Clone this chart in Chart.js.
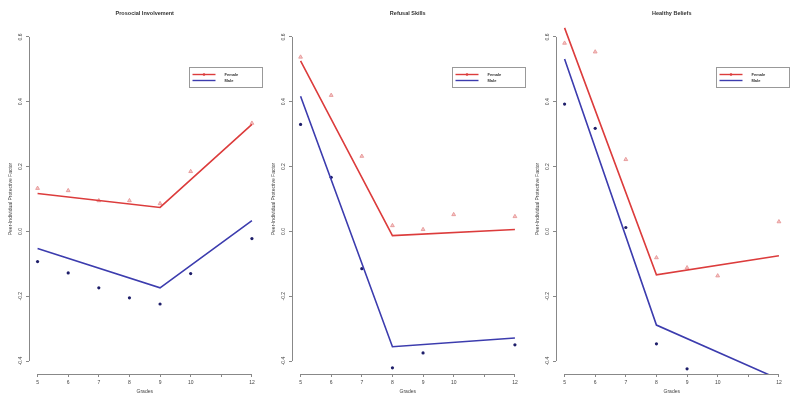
<!DOCTYPE html>
<html>
<head>
<meta charset="utf-8">
<script src="https://cdn.jsdelivr.net/npm/chart.js@4.4.1/dist/chart.umd.min.js"></script>
<style>
  html, body { margin: 0; padding: 0; background: #fff; }
  #wrap { position: relative; width: 800px; height: 406px; overflow: hidden; }
  .panel { position: absolute; top: 0; width: 266px; height: 406px; }
</style>
</head>
<body>
<div id="wrap">
  <div class="panel" style="left:0px"><canvas id="c0" width="266" height="406"></canvas></div>
  <div class="panel" style="left:263px"><canvas id="c1" width="266" height="406"></canvas></div>
  <div class="panel" style="left:527px"><canvas id="c2" width="266" height="406"></canvas></div>
</div>
<script>
// tick positions
const xTicks = [5, 6, 7, 8, 9, 10, 11, 12];
const yTicks = [-0.4, -0.2, 0.0, 0.2, 0.4, 0.6];

// Prosocial Involvement
const prosocialFemaleGrades = [5, 6, 7, 8, 9, 10, 12];
const prosocialFemale = [0.133, 0.126, 0.095, 0.095, 0.086, 0.185, 0.334];
const prosocialMaleGrades = [5, 6, 7, 8, 9, 10, 12];
const prosocialMale = [-0.093, -0.128, -0.174, -0.205, -0.224, -0.130, -0.022];
const prosocialKnots = [5, 9, 12];
const prosocialFemaleFit = [0.117, 0.074, 0.330];
const prosocialMaleFit = [-0.053, -0.174, 0.033];

// Refusal Skills
const refusalFemaleGrades = [5, 6, 7, 8, 9, 10, 12];
const refusalFemale = [0.538, 0.420, 0.232, 0.018, 0.006, 0.052, 0.046];
const refusalMaleGrades = [5, 6, 7, 8, 9, 12];
const refusalMale = [0.330, 0.167, -0.115, -0.421, -0.375, -0.350];
const refusalKnots = [5, 8, 12];
const refusalFemaleFit = [0.526, -0.013, 0.006];
const refusalMaleFit = [0.417, -0.356, -0.329];

// Healthy Beliefs
const healthyFemaleGrades = [5, 6, 7, 8, 9, 10, 12];
const healthyFemale = [0.581, 0.554, 0.222, -0.081, -0.112, -0.137, 0.030];
const healthyMaleGrades = [5, 6, 7, 8, 9];
const healthyMale = [0.393, 0.318, 0.012, -0.347, -0.424];
const healthyKnots = [5, 8, 12];
const healthyFemaleFit = [0.628, -0.134, -0.075];
const healthyMaleFit = [0.532, -0.289, -0.456];

const RED = '#dc3c3c';
const BLUE = '#3c3cae';
const FONT = 'Liberation Sans, Arial, sans-serif';
const TEXT = '#444';
const AXIS = '#888';

const xy = (xs, ys) => xs.map((x, i) => ({ x, y: ys[i] }));

// R-style axis lines: only from first to last tick
const rAxisLines = {
  id: 'rAxisLines',
  afterDraw(chart) {
    const { ctx, chartArea, scales: { x, y } } = chart;
    ctx.save();
    ctx.strokeStyle = AXIS;
    ctx.lineWidth = 1;
    ctx.beginPath();
    const yb = Math.round(chartArea.bottom) + 0.5;
    ctx.moveTo(x.getPixelForValue(xTicks[0]), yb);
    ctx.lineTo(x.getPixelForValue(xTicks[xTicks.length - 1]), yb);
    const xl = Math.round(chartArea.left) + 0.5;
    ctx.moveTo(xl, y.getPixelForValue(yTicks[0]));
    ctx.lineTo(xl, y.getPixelForValue(yTicks[yTicks.length - 1]));
    ctx.stroke();
    ctx.restore();
  }
};

// boxed legend in the upper right of the plot region
const boxLegend = {
  id: 'boxLegend',
  afterDraw(chart) {
    const { ctx, chartArea } = chart;
    const right = chartArea.right + 2;
    const left = right - 73;
    const top = 67.5;
    ctx.save();
    ctx.strokeStyle = '#999';
    ctx.lineWidth = 1;
    ctx.strokeRect(left, top, 73, 20);
    const rows = [['Female', RED, true], ['Male', BLUE, false]];
    rows.forEach(([label, color, marker], i) => {
      const ly = top + 7 + i * 6;
      ctx.strokeStyle = color;
      ctx.lineWidth = 1.4;
      ctx.beginPath();
      ctx.moveTo(left + 3, ly);
      ctx.lineTo(left + 26, ly);
      ctx.stroke();
      if (marker) {
        ctx.fillStyle = color;
        ctx.beginPath();
        ctx.arc(left + 14.5, ly, 1.3, 0, Math.PI * 2);
        ctx.fill();
      }
      ctx.fillStyle = '#333';
      ctx.font = 'bold 4px ' + FONT;
      ctx.textBaseline = 'middle';
      ctx.fillText(label, left + 35, ly);
    });
    ctx.restore();
  }
};

const panels = [
  { id: 'c0', title: 'Prosocial Involvement',
    fG: prosocialFemaleGrades, f: prosocialFemale, mG: prosocialMaleGrades, m: prosocialMale,
    knots: prosocialKnots, fFit: prosocialFemaleFit, mFit: prosocialMaleFit },
  { id: 'c1', title: 'Refusal Skills',
    fG: refusalFemaleGrades, f: refusalFemale, mG: refusalMaleGrades, m: refusalMale,
    knots: refusalKnots, fFit: refusalFemaleFit, mFit: refusalMaleFit },
  { id: 'c2', title: 'Healthy Beliefs',
    fG: healthyFemaleGrades, f: healthyFemale, mG: healthyMaleGrades, m: healthyMale,
    knots: healthyKnots, fFit: healthyFemaleFit, mFit: healthyMaleFit },
];

panels.forEach(p => {
  new Chart(document.getElementById(p.id), {
    type: 'scatter',
    data: {
      datasets: [
        { type: 'line', data: xy(p.knots, p.fFit), borderColor: RED, borderWidth: 1.6,
          pointRadius: 0, tension: 0, fill: false },
        { type: 'line', data: xy(p.knots, p.mFit), borderColor: BLUE, borderWidth: 1.6,
          pointRadius: 0, tension: 0, fill: false },
        { data: xy(p.fG, p.f), pointStyle: 'triangle', pointRadius: 2.2,
          backgroundColor: 'rgba(236,150,150,0.55)', borderColor: '#e59090', borderWidth: 0.8 },
        { data: xy(p.mG, p.m), pointStyle: 'circle', pointRadius: 1.6,
          backgroundColor: '#1e1e6a', borderColor: '#1e1e6a', borderWidth: 0 },
      ]
    },
    options: {
      responsive: false,
      animation: false,
      layout: { padding: { left: 0, right: 5.5, top: 0, bottom: 0 } },
      plugins: {
        legend: { display: false },
        tooltip: { enabled: false },
        title: {
          display: true, text: p.title, fullSize: false, color: '#333',
          font: { family: FONT, size: 5.5, weight: 'bold', lineHeight: 1 },
          padding: { top: 11, bottom: 7.5 }
        }
      },
      scales: {
        x: {
          type: 'linear', min: 4.72, max: 12.28,
          afterBuildTicks: s => { s.ticks = xTicks.map(v => ({ value: v })); },
          afterFit: s => { s.height = 32; },
          border: { display: false },
          grid: { drawOnChartArea: false, drawTicks: true, tickLength: 3, color: AXIS },
          ticks: { autoSkip: false, maxRotation: 0, padding: 3, color: TEXT,
                   font: { family: FONT, size: 5 },
                   callback: v => (v === 11 ? '' : String(v)) },
          title: { display: true, text: 'Grades', color: TEXT,
                   font: { family: FONT, size: 5, lineHeight: 1 },
                   padding: { top: 0, bottom: 11.5 } }
        },
        y: {
          type: 'linear', min: -0.44, max: 0.64,
          afterBuildTicks: s => { s.ticks = yTicks.map(v => ({ value: v })); },
          afterFit: s => { s.width = 29; },
          border: { display: false },
          grid: { drawOnChartArea: false, drawTicks: true, tickLength: 3, color: AXIS },
          ticks: { autoSkip: false, minRotation: 90, maxRotation: 90, crossAlign: 'center',
                   padding: 1, color: TEXT, font: { family: FONT, size: 5 },
                   callback: v => v.toFixed(1) },
          title: { display: true, text: 'Peer-Individual Protective Factor', color: TEXT,
                   font: { family: FONT, size: 5, lineHeight: 1 },
                   padding: { top: 8.5, bottom: 0 } }
        }
      }
    },
    plugins: [rAxisLines, boxLegend]
  });
});
</script>
</body>
</html>
